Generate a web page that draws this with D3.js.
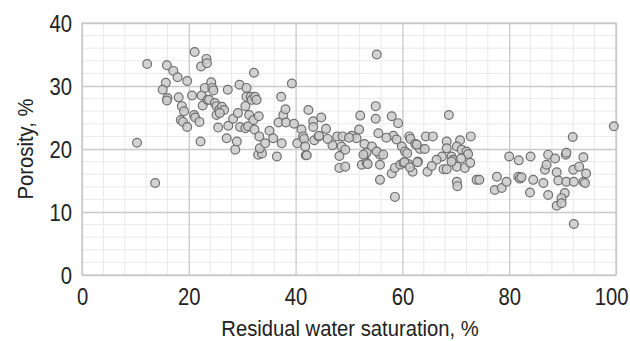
<!DOCTYPE html>
<html>
<head>
<meta charset="utf-8">
<script src="https://cdn.jsdelivr.net/npm/d3@7"></script>
<style>
  body { margin: 0; background: #fff; }
  svg text { font-family: "Liberation Sans", Arial, sans-serif; fill: #222; }
</style>
</head>
<body>
<script>
// Residual water saturation (%) readings, one per sample
const saturation = [
  10.3, 12.2, 13.7, 15.9, 17.1, 17.9, 15.7, 15.1, 16.0, 15.9, 18.1, 18.7, 19.1, 18.5, 18.9, 19.7, 19.7, 21.1, 20.6, 21.0,
  21.2, 22.0, 22.2, 22.3, 23.3, 23.4, 22.4, 22.6, 23.0, 23.5, 24.2, 24.4, 24.6, 23.8, 24.9, 25.2, 25.2, 25.7, 26.2, 26.6,
  25.8, 25.5, 27.3, 27.1, 27.4, 28.3, 28.7, 29.0, 29.5, 29.2, 29.6, 30.6, 30.8, 30.8, 31.3, 30.6, 31.1, 31.6, 31.8, 32.2,
  32.4, 32.7, 32.1, 32.3, 33.1, 33.2, 33.0, 33.7, 33.3, 34.3, 35.1, 35.8, 36.5, 36.8, 37.3, 37.4, 37.7, 38.1, 38.2, 39.3,
  39.7, 40.3, 41.1, 41.4, 41.6, 41.8, 41.9, 42.4, 43.3, 43.3, 43.5, 44.3, 44.8, 45.7, 44.4, 42.1,
  55.2, 52.1, 51.9, 55.0, 55.0, 55.5, 58.0, 59.2, 58.3, 58.9, 68.7, 72.8, 70.8, 68.3, 64.4, 65.7, 61.3, 61.5, 62.4, 63.3,
  64.2, 47.8, 48.8, 50.5, 51.4, 46.9, 48.6, 49.3, 48.2, 52.9, 54.3, 53.0, 55.8, 55.2, 59.9, 60.5, 60.9, 68.3, 70.2, 71.1,
  72.0, 72.3, 69.2, 67.4, 66.4, 62.9, 48.2, 49.3, 52.4, 53.3, 55.8, 55.8, 58.0, 58.6, 59.6, 60.2, 61.1, 61.9, 62.8, 58.6,
  64.7, 65.5, 67.7, 68.3, 69.5, 70.2, 70.2, 70.3, 71.7, 72.7, 73.9, 74.4, 53.5, 53.3, 56.4, 60.4, 61.4, 62.7, 69.2, 71.0,
  52.7, 57.0, 50.0, 46.0,
  80.0, 81.8, 84.0, 87.3, 88.6, 90.6, 90.7, 91.9, 93.9, 99.6, 77.7, 77.3, 78.6, 79.5, 81.7, 82.0, 82.3, 84.5, 83.9, 86.4,
  86.7, 87.0, 87.3, 88.9, 89.2, 90.4, 89.8, 88.9, 89.8, 90.7, 92.0, 93.1, 92.1, 93.9, 94.4, 92.1, 94.2
];

// Porosity (%) for the same samples
const porosity = [
  21.0, 33.5, 14.6, 33.3, 32.4, 31.4, 30.5, 29.4, 28.1, 27.7, 28.2, 26.8, 26.0, 24.6, 24.3, 23.5, 30.8, 35.4, 28.5, 25.4,
  25.0, 24.3, 21.2, 33.1, 34.3, 33.6, 28.5, 26.9, 29.7, 27.8, 30.6, 29.7, 29.3, 27.8, 27.3, 26.8, 25.4, 26.2, 26.7, 26.2,
  25.7, 23.4, 29.4, 21.7, 23.7, 24.8, 19.9, 21.2, 30.2, 25.7, 23.5, 26.8, 29.7, 28.3, 25.4, 23.3, 23.6, 28.3, 27.8, 32.1,
  28.3, 27.8, 24.6, 23.1, 25.2, 22.0, 19.1, 19.3, 20.1, 20.9, 22.9, 21.7, 18.8, 24.2, 28.3, 20.9, 25.4, 26.3, 24.2, 30.4,
  24.0, 20.9, 23.1, 22.0, 21.6, 20.4, 19.0, 26.2, 24.4, 23.5, 21.4, 22.0, 25.0, 23.2, 22.1, 19.0,
  35.0, 25.3, 23.1, 26.8, 24.8, 22.5, 25.2, 24.1, 22.1, 21.5, 25.4, 22.0, 21.4, 21.2, 22.0, 22.0, 22.0, 21.6, 20.8, 20.0,
  20.0, 22.0, 22.0, 22.1, 21.7, 20.6, 20.4, 19.9, 18.9, 20.8, 20.4, 19.1, 19.1, 19.6, 20.4, 19.6, 19.3, 20.1, 20.4, 19.9,
  19.6, 19.2, 18.8, 18.8, 18.3, 18.0, 17.0, 17.2, 17.5, 17.8, 17.5, 15.1, 16.1, 17.0, 17.5, 17.8, 17.6, 16.4, 17.9, 12.4,
  16.4, 17.3, 16.8, 16.8, 18.3, 17.2, 14.8, 14.1, 17.0, 17.8, 15.1, 15.1, 17.6, 19.4, 19.1, 17.9, 17.1, 20.7, 18.0, 18.5,
  19.1, 21.8, 21.8, 21.6,
  18.8, 18.2, 18.8, 19.1, 18.5, 19.1, 19.4, 21.9, 18.7, 23.6, 15.6, 13.5, 13.8, 14.8, 15.6, 15.3, 15.5, 15.1, 13.1, 14.6,
  16.7, 17.5, 12.7, 16.3, 15.0, 13.0, 12.2, 11.0, 11.4, 14.8, 16.7, 17.2, 14.8, 14.8, 16.1, 8.1, 14.6
];

const X_TICKS = [0, 20, 40, 60, 80, 100];
const Y_TICKS = [0, 10, 20, 30, 40];

const WIDTH = 630;
const HEIGHT = 341;
const MARGIN = { top: 23, right: 14, bottom: 66, left: 82 };

const MAJOR_GRID = "#c9c9c9";
const MINOR_GRID = "#e9e9e9";
const DOT_RADIUS = 4.4;

// The original lettering is a tall condensed face, squeeze a regular one
const SQUEEZE = 0.88;
const TITLE_SQUEEZE = 0.92;
const TICK_PAD = 10;

const plotWidth = WIDTH - MARGIN.left - MARGIN.right;
const plotHeight = HEIGHT - MARGIN.top - MARGIN.bottom;

const xScale = d3.scaleLinear().domain([0, 100]).range([0, plotWidth]);
const yScale = d3.scaleLinear().domain([0, 40]).range([plotHeight, 0]);

const svg = d3.select("body").append("svg")
    .attr("width", WIDTH)
    .attr("height", HEIGHT);

const plot = svg.append("g")
    .attr("transform", `translate(${MARGIN.left}, ${MARGIN.top})`);

// Minor grid: every 4 units on x, every 2 units on y
const xMinor = d3.range(0, 101, 4).filter(v => v % 20 !== 0);
const yMinor = d3.range(0, 41, 2).filter(v => v % 10 !== 0);

plot.append("g").selectAll("line")
    .data(xMinor)
    .join("line")
    .attr("x1", d => xScale(d)).attr("x2", d => xScale(d))
    .attr("y1", 0).attr("y2", plotHeight)
    .attr("stroke", MINOR_GRID);

plot.append("g").selectAll("line")
    .data(yMinor)
    .join("line")
    .attr("x1", 0).attr("x2", plotWidth)
    .attr("y1", d => yScale(d)).attr("y2", d => yScale(d))
    .attr("stroke", MINOR_GRID);

// Major grid via axes with full-length ticks
const xAxis = plot.append("g")
    .attr("transform", `translate(0, ${plotHeight})`)
    .call(d3.axisBottom(xScale).tickValues(X_TICKS).tickSize(-plotHeight).tickPadding(TICK_PAD));

const yAxis = plot.append("g")
    .call(d3.axisLeft(yScale).tickValues(Y_TICKS).tickSize(-plotWidth).tickPadding(TICK_PAD));

[xAxis, yAxis].forEach(axis => {
    axis.select(".domain").remove();
    axis.selectAll(".tick line").attr("stroke", MAJOR_GRID).attr("stroke-width", 1.3);
    axis.selectAll(".tick text")
        .attr("fill", "#222")
        .attr("transform", `scale(${SQUEEZE}, 1)`)
        .style("font-family", "\"Liberation Sans\", sans-serif")
        .style("font-size", "23px");
});
xAxis.selectAll(".tick text").attr("dy", "0.88em");
yAxis.selectAll(".tick text")
    .attr("x", -TICK_PAD / SQUEEZE)
    .attr("dy", "0.38em");

// Last x label is pulled in so it stays inside the page
xAxis.selectAll(".tick text")
    .filter(d => d === X_TICKS[X_TICKS.length - 1])
    .attr("text-anchor", "end")
    .attr("x", 12 / SQUEEZE);

// Frame
plot.append("rect")
    .attr("width", plotWidth)
    .attr("height", plotHeight)
    .attr("fill", "none")
    .attr("stroke", MAJOR_GRID)
    .attr("stroke-width", 1.3);

// Points
plot.append("g").selectAll("circle")
    .data(d3.zip(saturation, porosity))
    .join("circle")
    .attr("cx", d => xScale(d[0]))
    .attr("cy", d => yScale(d[1]))
    .attr("r", DOT_RADIUS)
    .attr("fill", "#cbcbcb")
    .attr("fill-opacity", 0.85)
    .attr("stroke", "#6f6f6f")
    .attr("stroke-width", 1.2);

// Axis titles
svg.append("text")
    .attr("transform", `translate(${MARGIN.left + plotWidth / 2 + 1}, 336) scale(${TITLE_SQUEEZE}, 1)`)
    .attr("text-anchor", "middle")
    .style("font-size", "22px")
    .text("Residual water saturation, %");

svg.append("text")
    .attr("transform", `translate(33, ${MARGIN.top + plotHeight / 2}) rotate(-90) scale(${TITLE_SQUEEZE}, 1)`)
    .attr("text-anchor", "middle")
    .style("font-size", "22px")
    .text("Porosity, %");
</script>
</body>
</html>
